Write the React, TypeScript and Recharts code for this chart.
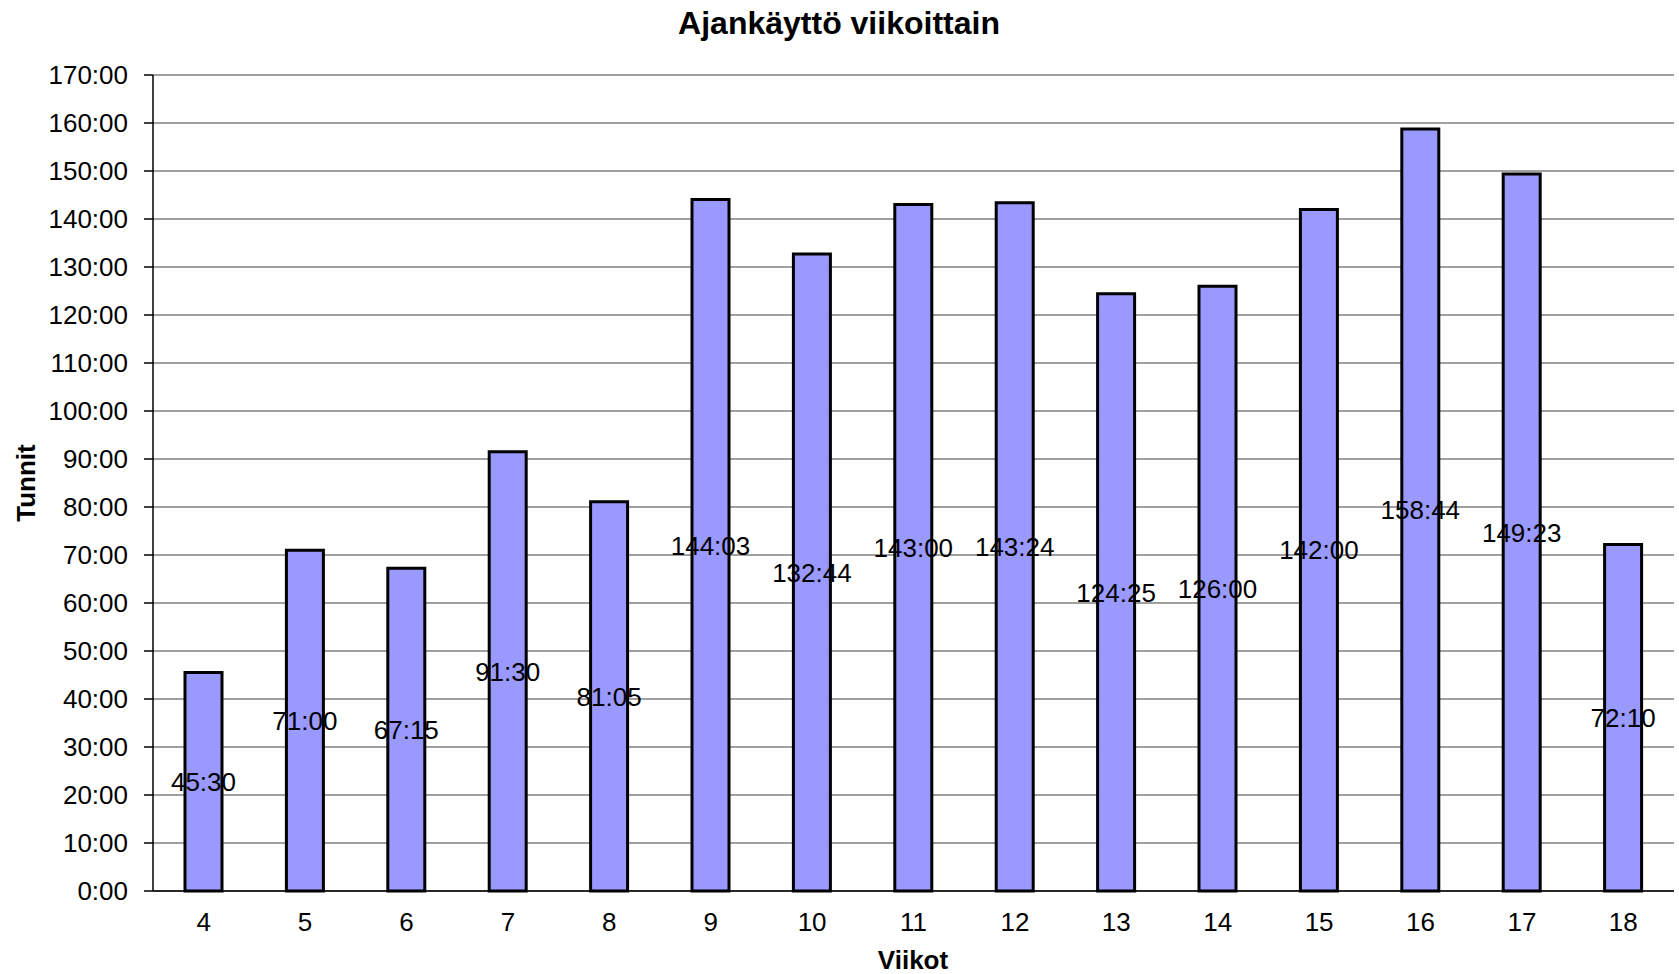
import React from "react";
import {
  BarChart,
  Bar,
  XAxis,
  YAxis,
  CartesianGrid,
  LabelList,
} from "recharts";

const weeks = ["4", "5", "6", "7", "8", "9", "10", "11", "12", "13", "14", "15", "16", "17", "18"];
const hours = [
  "45:30", "71:00", "67:15", "91:30", "81:05", "144:03", "132:44", "143:00",
  "143:24", "124:25", "126:00", "142:00", "158:44", "149:23", "72:10",
];
const yTicks = [0, 10, 20, 30, 40, 50, 60, 70, 80, 90, 100, 110, 120, 130, 140, 150, 160, 170];
const edgeTicks = [0, 1, 2, 3, 4, 5, 6, 7, 8, 9, 10, 11, 12, 13, 14, 15];

const toHours = (s: string) => {
  const [h, m] = s.split(":").map(Number);
  return h + m / 60;
};

const data = weeks.map((w, i) => ({ week: w, value: toHours(hours[i]), label: hours[i] }));

const FONT = '"Liberation Sans", Arial, sans-serif';

export default function App() {
  return (
    <div style={{ position: "absolute", left: 0, top: 0, width: 1679, height: 974, background: "#fff" }}>
      <div
        style={{
          position: "absolute",
          left: 839,
          top: 4,
          transform: "translateX(-50%)",
          whiteSpace: "nowrap",
          fontFamily: FONT,
          fontWeight: "bold",
          fontSize: 32,
          lineHeight: "38px",
        }}
      >
        Ajankäyttö viikoittain
      </div>
      <BarChart
        width={1679}
        height={974}
        data={data}
        margin={{ top: 75, right: 5, bottom: 0, left: 0 }}
        style={{ fontFamily: FONT }}
      >
        <CartesianGrid horizontal vertical={false} stroke="#808080" strokeWidth={1.5} />
        <XAxis
          xAxisId="edge"
          type="number"
          domain={[0, 15]}
          ticks={edgeTicks}
          height={0}
          axisLine={false}
          tickLine={{ stroke: "#000", strokeWidth: 1.5 }}
          tickSize={7}
          tickFormatter={() => ""}
          allowDataOverflow
        />
        <XAxis
          dataKey="week"
          height={83}
          axisLine={{ stroke: "#000", strokeWidth: 1.5 }}
          tickLine={false}
          tickSize={7}
          tickMargin={15}
          tick={{ fill: "#000", fontSize: 26 }}
          interval={0}
          label={{
            content: () => (
              <text x={913} y={969} textAnchor="middle" fontSize={26} fontWeight="bold" fill="#000">
                Viikot
              </text>
            ),
          }}
        />
        <YAxis
          width={153}
          domain={[0, 170]}
          ticks={yTicks}
          interval={0}
          tickFormatter={(v: number) => `${v}:00`}
          axisLine={{ stroke: "#000", strokeWidth: 1.5 }}
          tickLine={{ stroke: "#000", strokeWidth: 1.5 }}
          tickSize={9}
          tickMargin={16}
          tick={{ fill: "#000", fontSize: 26 }}
          label={{
            content: () => (
              <text
                x={35}
                y={483}
                transform="rotate(-90 35 483)"
                textAnchor="middle"
                fontSize={26}
                fontWeight="bold"
                fill="#000"
              >
                Tunnit
              </text>
            ),
          }}
        />
        <YAxis
          yAxisId="r"
          orientation="right"
          width={0}
          domain={[0, 170]}
          tick={false}
          tickLine={false}
          axisLine={{ stroke: "#808080", strokeWidth: 1.5 }}
        />
        <Bar
          dataKey="value"
          fill="#9999FF"
          stroke="#000"
          strokeWidth={3}
          barSize={37}
          isAnimationActive={false}
        >
          <LabelList dataKey="label" position="center" fill="#000" fontSize={26} />
        </Bar>
      </BarChart>
    </div>
  );
}
